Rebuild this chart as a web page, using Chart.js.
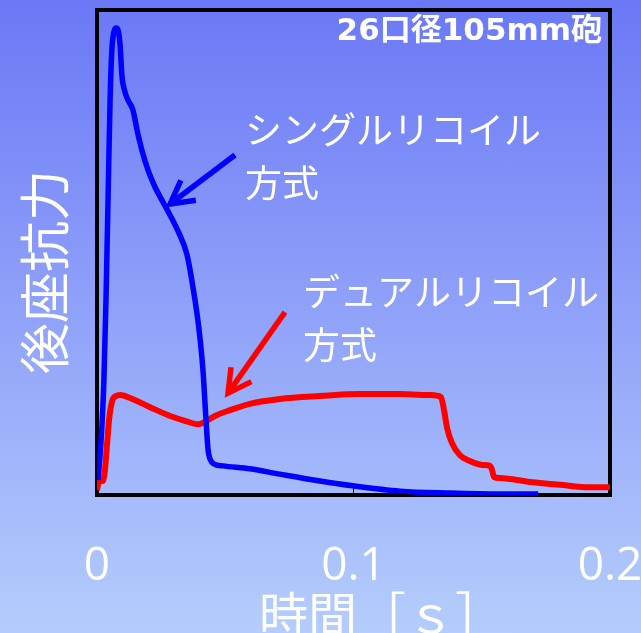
<!DOCTYPE html>
<html lang="ja">
<head>
  <meta charset="UTF-8">
  <title>後座抗力</title>
  <script src="https://cdn.jsdelivr.net/npm/chart.js"></script>
  <style>
    html, body { margin: 0; padding: 0; }
    body {
      width: 641px; height: 633px; overflow: hidden;
      background: linear-gradient(to bottom, #6b78f6 0%, #b5cdfc 100%);
    }
    .chart-box { position: relative; width: 641px; height: 633px; }
  </style>
</head>
<body>
  <div class="chart-box"><canvas id="recoilChart"></canvas></div>

  <script>
    // 時間 [s] の目盛
    const timeTicks = [0, 0.1, 0.2];

    // シングルリコイル方式 (青)
    const singleTime = [0.0004, 0.0016, 0.0027, 0.0035, 0.0043, 0.0051, 0.0058, 0.0066, 0.0074, 0.0082,
      0.0090, 0.0097, 0.0109, 0.0121, 0.0140, 0.0156, 0.0175, 0.0199, 0.0226, 0.0253,
      0.0285, 0.0316, 0.0351, 0.0382, 0.0398, 0.0413, 0.0425, 0.0433, 0.0441,
      0.0456, 0.0491, 0.0596, 0.0713, 0.0869, 0.0998, 0.1181, 0.1376, 0.1571, 0.1720];
    const singleForce = [3.1, 11.3, 23.7, 40.2, 60.8, 81.4, 91.8, 95.5, 96.3, 95.9,
      92.8, 86.6, 83.1, 81.4, 79.4, 75.3, 71.1, 67.0, 63.5, 60.8,
      57.7, 54.4, 49.5, 40.2, 34.0, 25.8, 15.5, 9.3, 7.4,
      6.4, 6.0, 5.4, 4.3, 2.9, 1.9, 0.8, 0.4, 0.2, 0.2];

    // デュアルリコイル方式 (赤)
    const dualTime = [0, 0.0008, 0.0023, 0.0031, 0.0039, 0.0047, 0.0058, 0.0074, 0.0090, 0.0129,
      0.0207, 0.0285, 0.0343, 0.0394, 0.0421, 0.0460, 0.0519, 0.0596, 0.0713, 0.0869,
      0.1025, 0.1181, 0.1298, 0.1341, 0.1353, 0.1365, 0.1384, 0.1415, 0.1454, 0.1501,
      0.1532, 0.1540, 0.1548, 0.1571, 0.1688, 0.1805, 0.1922, 0.2000];
    const dualForce = [1.0, 2.9, 2.9, 5.2, 10.3, 15.5, 19.2, 20.4, 20.6, 20.0,
      18.1, 16.3, 15.3, 14.6, 15.1, 16.3, 17.5, 18.8, 19.8, 20.4,
      20.8, 20.8, 20.6, 20.2, 17.5, 13.8, 10.7, 8.2, 7.0, 6.2,
      6.0, 5.2, 3.7, 3.5, 2.7, 2.1, 1.6, 1.6];

    const toPoints = (xs, ys) => xs.map((x, i) => ({ x: x, y: ys[i] }));

    const jpFont = '"Noto Sans CJK JP", "Noto Sans", sans-serif';

    // 枠・注記・矢印など
    const decorations = {
      id: 'decorations',
      beforeDatasetsDraw(chart) {
        const { ctx, chartArea: a, scales } = chart;
        ctx.save();
        ctx.strokeStyle = '#000';
        ctx.lineWidth = 4;
        ctx.strokeRect(a.left, a.top, a.right - a.left, a.bottom - a.top);
        // 0.1 の内向き目盛
        const tx = scales.x.getPixelForValue(0.1);
        ctx.lineWidth = 1;
        ctx.beginPath();
        ctx.moveTo(tx, a.bottom);
        ctx.lineTo(tx, a.bottom - 8);
        ctx.stroke();
        ctx.restore();
      },
      afterDatasetsDraw(chart) {
        const { ctx, scales } = chart;
        const px = v => scales.x.getPixelForValue(v);
        const py = v => scales.y.getPixelForValue(v);

        const arrow = (x1, y1, x2, y2, color) => {
          const ang = Math.atan2(y2 - y1, x2 - x1);
          const len = 26;
          ctx.strokeStyle = color;
          ctx.lineWidth = 5.5;
          ctx.lineCap = 'butt';
          ctx.lineJoin = 'miter';
          ctx.beginPath();
          ctx.moveTo(x1, y1);
          ctx.lineTo(x2, y2);
          ctx.stroke();
          ctx.beginPath();
          ctx.moveTo(x2 - len * Math.cos(ang - 0.5), y2 - len * Math.sin(ang - 0.5));
          ctx.lineTo(x2, y2);
          ctx.lineTo(x2 - len * Math.cos(ang + 0.5), y2 - len * Math.sin(ang + 0.5));
          ctx.stroke();
        };

        ctx.save();
        arrow(px(0.0538), py(70.1), px(0.0285), py(60.0), '#0000ff');
        arrow(px(0.0733), py(37.7), px(0.0511), py(21.0), '#ff0000');

        ctx.fillStyle = '#fff';
        ctx.textBaseline = 'middle';
        ctx.textAlign = 'left';
        ctx.font = '37px ' + jpFont;
        ctx.fillText('シングルリコイル', px(0.0577), py(75.3));
        ctx.fillText('方式', px(0.0577), py(64.3));
        ctx.fillText('デュアルリコイル', px(0.0803), py(41.9));
        ctx.fillText('方式', px(0.0803), py(30.9));

        ctx.textAlign = 'right';
        ctx.font = 'bold 31px "DejaVu Sans", ' + jpFont;
        ctx.fillText('26口径105mm砲', px(0.1969), py(95.5));

        // 軸タイトル
        ctx.textAlign = 'left';
        ctx.font = '49px ' + jpFont;
        ctx.fillText('時間［ｓ］', 259, 614);
        ctx.textAlign = 'center';
        ctx.translate(45, 272);
        ctx.rotate(-Math.PI / 2);
        ctx.font = '51px ' + jpFont;
        ctx.fillText('後座抗力', 0, 0);
        ctx.restore();
      }
    };

    const ctx = document.getElementById('recoilChart').getContext('2d');
    new Chart(ctx, {
      type: 'line',
      data: {
        datasets: [
          {
            label: 'シングルリコイル方式',
            data: toPoints(singleTime, singleForce),
            borderColor: '#0000ff',
            borderWidth: 5.5,
            pointRadius: 0,
            cubicInterpolationMode: 'monotone'
          },
          {
            label: 'デュアルリコイル方式',
            data: toPoints(dualTime, dualForce),
            borderColor: '#ff0000',
            borderWidth: 6,
            pointRadius: 0,
            cubicInterpolationMode: 'monotone'
          }
        ]
      },
      options: {
        responsive: true,
        maintainAspectRatio: false,
        animation: false,
        layout: { padding: { left: 97, top: 10, right: 31, bottom: 0 } },
        plugins: { legend: { display: false }, tooltip: { enabled: false } },
        scales: {
          x: {
            type: 'linear',
            min: 0,
            max: 0.2,
            afterBuildTicks: s => { s.ticks = timeTicks.map(v => ({ value: v })); },
            afterFit: s => { s.height = 138; s.paddingLeft = 0; s.paddingRight = 0; },
            grid: { display: false, drawTicks: false },
            border: { display: false },
            ticks: {
              color: '#fff',
              padding: 44,
              maxRotation: 0,
              font: { family: '"Open Sans", sans-serif', size: 46 }
            }
          },
          y: { display: false, min: 0, max: 100 }
        }
      },
      plugins: [decorations]
    });
  </script>
</body>
</html>
